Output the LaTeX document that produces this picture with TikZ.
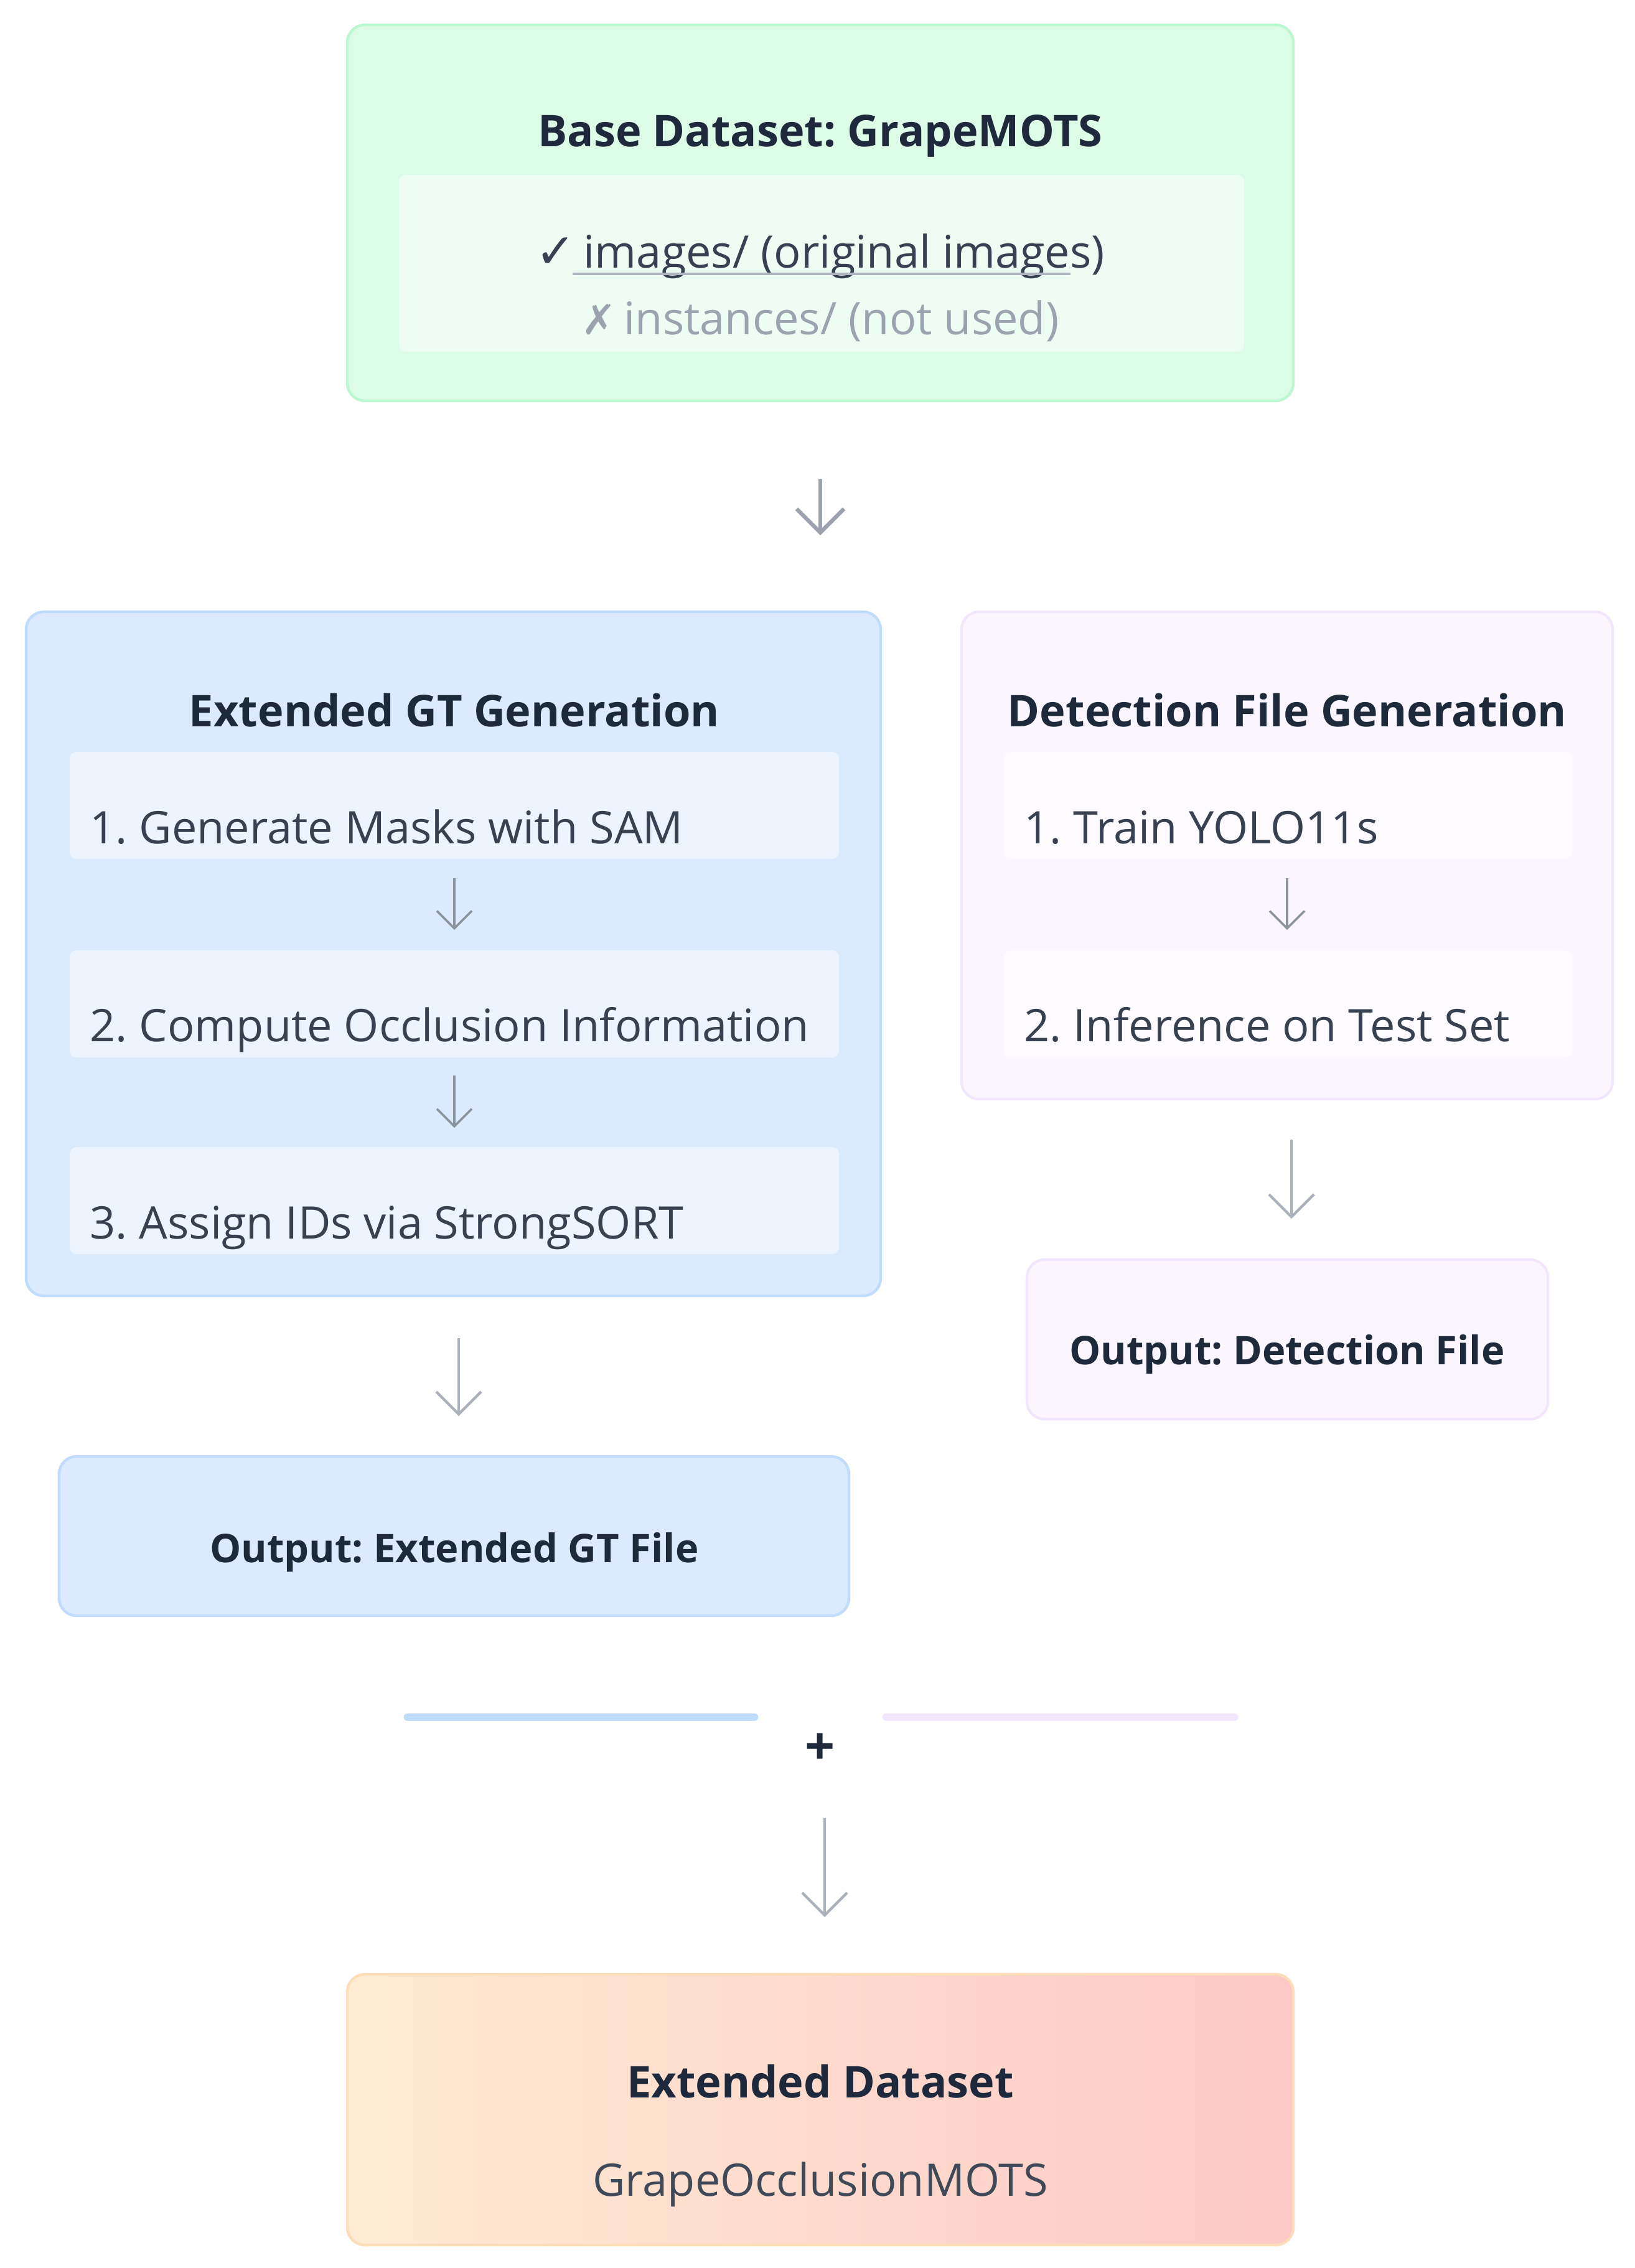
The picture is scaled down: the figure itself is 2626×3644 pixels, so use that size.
\documentclass[tikz,border=0pt]{standalone}
\usepackage{fontspec}
\setmainfont{Open Sans}
\newfontfamily\symfont{DejaVu Sans}
\usetikzlibrary{fit,arrows.meta}
\frenchspacing
\definecolor{txt}{HTML}{1E293B}
\definecolor{steptxt}{HTML}{374151}
\definecolor{arrowgray}{HTML}{9CA3AF}
\definecolor{greenfill}{HTML}{DCFCE7}
\definecolor{greenline}{HTML}{BBF7D0}
\definecolor{greeninner}{HTML}{EDFDF3}
\definecolor{bluefill}{HTML}{DBEAFE}
\definecolor{blueline}{HTML}{BFDBFE}
\definecolor{blueinner}{HTML}{EDF4FF}
\definecolor{purplefill}{HTML}{FAF5FF}
\definecolor{purpleline}{HTML}{F1E6FD}
\definecolor{purpleinner}{HTML}{FDFBFF}
\definecolor{peach}{HTML}{FFEBD3}
\definecolor{pinkred}{HTML}{FDC9C7}
\definecolor{peachline}{HTML}{FDDDB8}
\begin{document}
\frenchspacing
\begin{tikzpicture}[x=0.01cm,y=-0.01cm,
  outer/.style={rounded corners=8pt,line width=1.2pt,inner sep=0pt},
  inner/.style={rounded corners=3pt,inner sep=0pt,draw=none},
  titletxt/.style={anchor=base,font=\fontsize{20}{24}\selectfont\bfseries\frenchspacing,text=txt,inner sep=0pt},
  outtxt/.style={anchor=base,font=\fontsize{18}{22}\selectfont\bfseries\frenchspacing,text=txt,inner sep=0pt},
  steptext/.style={anchor=base west,font=\fontsize{20.5}{24}\selectfont\frenchspacing,text=steptxt,inner sep=0pt},
  plaintxt/.style={anchor=base,font=\fontsize{20.5}{24}\selectfont\frenchspacing,text=steptxt,inner sep=0pt},
  bigarrow/.style={draw=arrowgray,line width=1.8pt,-{Straight Barb[length=3.8mm,width=7.6mm,line width=1.8pt]}},
  midarrow/.style={draw=arrowgray!85,line width=1.2pt,-{Straight Barb[length=3.6mm,width=7.2mm,line width=1.2pt]}},
  smallarrow/.style={draw=arrowgray!90!black,line width=1pt,-{Straight Barb[length=2.8mm,width=5.6mm,line width=1pt]}},
]
\useasboundingbox[fill=white] (0,0) rectangle (2626,3644);

% ---- Base dataset ----
\node[outer,draw=greenline,fill=greenfill,fit={(558,40)(2078,644)}] (base) {};
\node[inner,fill=greeninner,fit={(641,281)(1999,565)}] (baseinner) {};
\node[titletxt] (basetitle) at (1318,235) {Base Dataset: GrapeMOTS};
\node[plaintxt] (imgs) at (1318,430) {{\symfont\fontsize{22}{24}\selectfont ✓}\,images/ (original images)};
\node[plaintxt,text=arrowgray] (inst) at (1318,537) {{\symfont\fontsize{19}{22}\selectfont ✗}\,instances/ (not used)};
\coordinate (ulA) at (920,440);
\coordinate (ulB) at (1720,440);
\draw[arrowgray!80,line width=1.3pt] (ulA) -- (ulB);

% arrow 1
\coordinate (a1s) at (1318,770);
\coordinate (a1e) at (1318,860);
\draw[bigarrow] (a1s) -- (a1e);

% ---- Extended GT generation ----
\node[outer,draw=blueline,fill=bluefill,fit={(42,983)(1415,2082)}] (gtbox) {};
\node[titletxt] (gttitle) at (730,1167) {Extended GT Generation};
\node[inner,fill=blueinner,fit={(112,1208)(1348,1380)}] (s1) {};
\node[inner,fill=blueinner,fit={(112,1527)(1348,1699)}] (s2) {};
\node[inner,fill=blueinner,fit={(112,1843)(1348,2015)}] (s3) {};
\node[steptext] (s1t) at (144,1355) {1. Generate Masks with SAM};
\node[steptext] (s2t) at (144,1673) {2. Compute Occlusion Information};
\node[steptext] (s3t) at (144,1990) {3. Assign IDs via StrongSORT};
\coordinate (g1s) at (730,1411);
\coordinate (g1e) at (730,1494);
\coordinate (g2s) at (730,1728);
\coordinate (g2e) at (730,1812);
\draw[smallarrow] (g1s) -- (g1e);
\draw[smallarrow] (g2s) -- (g2e);

% ---- Detection file generation ----
\node[outer,draw=purpleline,fill=purplefill,fit={(1545,983)(2591,1766)}] (detbox) {};
\node[titletxt] (dettitle) at (2068,1167) {Detection File Generation};
\node[inner,fill=purpleinner,fit={(1613,1208)(2526,1380)}] (d1) {};
\node[inner,fill=purpleinner,fit={(1613,1527)(2526,1699)}] (d2) {};
\node[steptext] (d1t) at (1645,1355) {1. Train YOLO11s};
\node[steptext] (d2t) at (1645,1673) {2. Inference on Test Set};
\coordinate (h1s) at (2068,1411);
\coordinate (h1e) at (2068,1494);
\draw[smallarrow] (h1s) -- (h1e);

% arrows to outputs
\coordinate (a2s) at (737,2150);
\coordinate (a2e) at (737,2275);
\draw[midarrow] (a2s) -- (a2e);
\coordinate (a3s) at (2075,1831);
\coordinate (a3e) at (2075,1958);
\draw[midarrow] (a3s) -- (a3e);

% ---- Outputs ----
\node[outer,draw=blueline,fill=bluefill,fit={(95,2340)(1364,2596)}] (gtout) {};
\node[outtxt] (gtoutt) at (730,2510) {Output: Extended GT File};
\node[outer,draw=purpleline,fill=purplefill,fit={(1650,2024)(2487,2280)}] (detout) {};
\node[outtxt] (detoutt) at (2068,2192) {Output: Detection File};

% ---- combine ----
\coordinate (bl1) at (655,2759);
\coordinate (bl2) at (1212,2759);
\coordinate (pl1) at (1424,2759);
\coordinate (pl2) at (1983,2759);
\draw[blueline,line width=3.6pt,line cap=round] (bl1) -- (bl2);
\draw[purpleline,line width=3.6pt,line cap=round] (pl1) -- (pl2);
\node[anchor=center,font=\fontsize{24}{26}\selectfont\bfseries,text=txt,inner sep=0pt] (plus) at (1318,2810) {+};
\coordinate (a4s) at (1325,2921);
\coordinate (a4e) at (1325,3080);
\draw[midarrow] (a4s) -- (a4e);

% ---- Extended dataset ----
\node[outer,draw=peachline,left color=peach,right color=pinkred,fit={(558,3172)(2078,3607)}] (ext) {};
\node[titletxt] (extt) at (1318,3370) {Extended Dataset};
\node[plaintxt,text=txt!85] (exts) at (1318,3528) {GrapeOcclusionMOTS};
\end{tikzpicture}
\end{document}
